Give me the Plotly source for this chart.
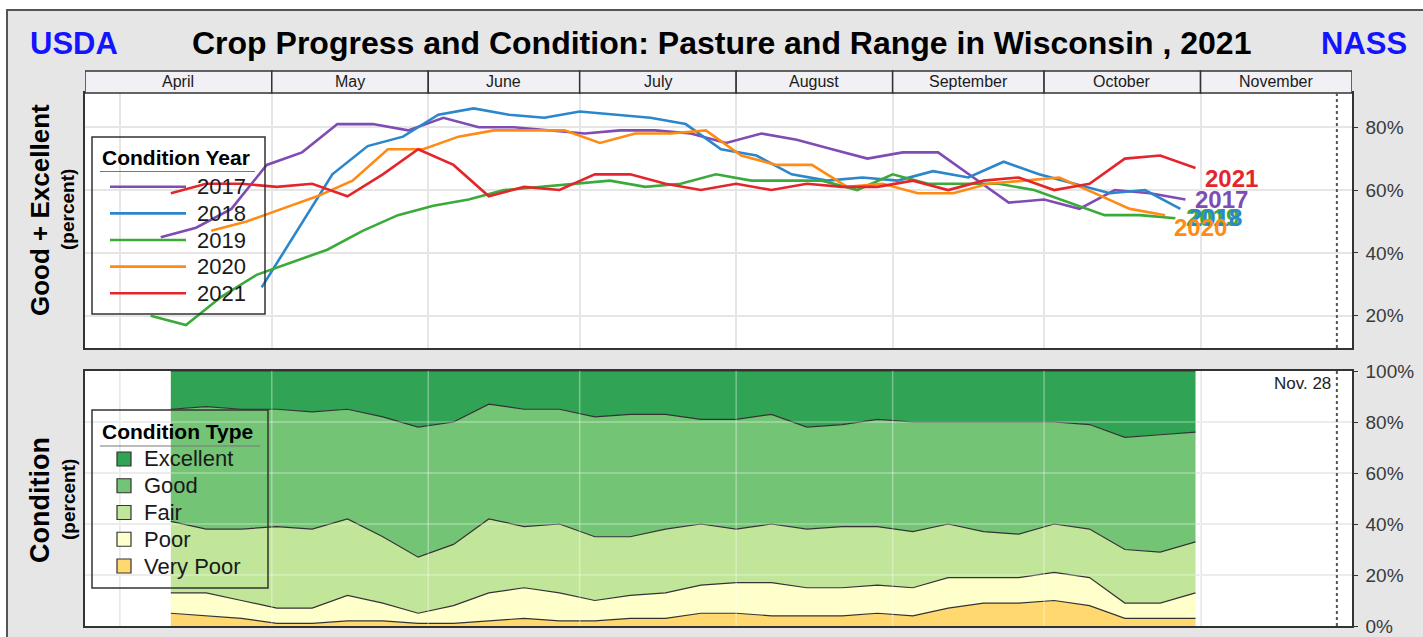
import pandas as pd
import plotly.graph_objects as go

W, H = 1423, 637
FONT = "Liberation Sans, Arial, Helvetica, sans-serif"

# ---------------- data ----------------
years = ["2017", "2018", "2019", "2020", "2021"]
year_colors = ["#7E4CB3", "#2B86CC", "#3AAA3A", "#FF8A14", "#E4262C"]
# first week-ending date of each year's series, placed on the 2021 calendar
year_starts = ["2021-04-09", "2021-04-29", "2021-04-07", "2021-04-19", "2021-04-11"]

ge_2017 = [45, 48, 54, 68, 72, 81, 81, 79, 83, 80, 80, 79, 78, 79, 79,
           78, 75, 78, 76, 73, 70, 72, 72, 64, 56, 57, 54, 60, 59, 57]
ge_2018 = [29, 47, 65, 74, 77, 84, 86, 84, 83, 85, 84, 83, 81, 73, 71,
           65, 63, 64, 63, 66, 64, 69, 65, 62, 59, 60, 54]
ge_2019 = [20, 17, 26, 33, 37, 41, 47, 52, 55, 57, 60, 61, 62, 63, 61,
           62, 65, 63, 63, 63, 60, 65, 62, 62, 62, 60, 56, 52, 52, 51]
ge_2020 = [47, 50, 54, 58, 63, 73, 73, 77, 79, 79, 79, 75, 78, 78, 79,
           71, 68, 68, 61, 62, 59, 59, 62, 63, 64, 59, 54, 52]
ge_2021 = [59, 62, 62, 61, 62, 58, 65, 73, 68, 58, 61, 60, 65, 65, 62,
           60, 62, 60, 62, 61, 61, 63, 60, 63, 64, 60, 62, 70, 71, 67]
year_values = [ge_2017, ge_2018, ge_2019, ge_2020, ge_2021]

cond_start = "2021-04-11"
cond_types = ["Very Poor", "Poor", "Fair", "Good", "Excellent"]
cond_colors = ["#FFD970", "#FFFFCC", "#C2E699", "#74C476", "#31A354"]
very_poor = [5, 4, 3, 1, 1, 2, 2, 1, 1, 2, 3, 2, 2, 3, 3,
             5, 5, 4, 4, 4, 5, 4, 7, 9, 9, 10, 8, 3, 3, 3]
poor = [8, 9, 7, 6, 6, 10, 7, 4, 7, 11, 12, 11, 8, 9, 10,
        11, 12, 13, 11, 11, 11, 11, 12, 10, 10, 11, 11, 6, 6, 10]
fair = [28, 25, 28, 32, 31, 30, 26, 22, 24, 29, 24, 27, 25, 23, 25,
        24, 21, 23, 23, 24, 23, 22, 21, 18, 17, 19, 19, 21, 20, 20]
good = [44, 48, 47, 46, 46, 43, 47, 51, 48, 45, 46, 45, 47, 48, 45,
        41, 43, 43, 40, 40, 42, 43, 40, 43, 44, 40, 41, 44, 46, 43]
excellent = [15, 14, 15, 15, 16, 15, 18, 22, 20, 13, 15, 15, 18, 17, 17,
             19, 19, 17, 22, 21, 19, 20, 20, 20, 20, 20, 21, 26, 25, 24]
cond_values = [very_poor, poor, fair, good, excellent]

months = ["April", "May", "June", "July", "August", "September", "October", "November"]
month_starts = ["2021-04-01", "2021-05-01", "2021-06-01", "2021-07-01",
                "2021-08-01", "2021-09-01", "2021-10-01", "2021-11-01"]
x_range = ["2021-03-25", "2021-12-01"]
last_week = "2021-11-28"
top_ticks = [20, 40, 60, 80]
bottom_ticks = [0, 20, 40, 60, 80, 100]

# ---------------- layout helpers (pixel -> paper) ----------------
def px(x):
    return x / W


def py(y):
    return 1 - y / H


X0, X1 = 85, 1352
TOP_Y0, TOP_Y1 = 93, 348
BOT_Y0, BOT_Y1 = 371, 626
STRIP_Y0 = 71

fig = go.Figure()

# ---- top panel: Good + Excellent lines ----
for yr, col, start, vals in zip(years, year_colors, year_starts, year_values):
    dates = pd.date_range(start, periods=len(vals), freq="7D")
    fig.add_trace(go.Scatter(x=dates, y=vals, mode="lines", name=yr,
                             line=dict(color=col, width=2.6),
                             xaxis="x", yaxis="y", showlegend=False))

# ---- bottom panel: stacked condition areas ----
cond_dates = pd.date_range(cond_start, periods=len(very_poor), freq="7D")
for name, col, vals in zip(cond_types, cond_colors, cond_values):
    fig.add_trace(go.Scatter(x=cond_dates, y=vals, mode="lines", name=name,
                             stackgroup="cond", fillcolor=col,
                             line=dict(color="#333333", width=1.2),
                             xaxis="x2", yaxis="y2", showlegend=False))

axis_common = dict(showline=True, mirror=True, linecolor="#333333", linewidth=1.5,
                   zeroline=False, gridcolor="#E6E6E6", gridwidth=1.5, automargin=False)
xcommon = dict(axis_common, type="date", range=x_range, domain=[px(X0), px(X1)],
               tickvals=month_starts, showticklabels=False, ticks="", showgrid=True)
ycommon = dict(axis_common, side="right", ticks="outside", ticklen=4,
               tickcolor="#333333", tickfont=dict(family=FONT, size=19, color="#3A3A3A"),
               ticklabelstandoff=4, showgrid=True)

fig.update_layout(
    width=W, height=H, margin=dict(l=0, r=0, t=0, b=0, autoexpand=False),
    paper_bgcolor="#E6E6E6", plot_bgcolor="white", showlegend=False,
    font=dict(family=FONT),
    xaxis=dict(xcommon, anchor="y"),
    yaxis=dict(ycommon, domain=[py(TOP_Y1), py(TOP_Y0)], range=[9.7, 90.9],
               tickvals=top_ticks, ticktext=[f"{v}%" for v in top_ticks], anchor="x"),
    xaxis2=dict(xcommon, anchor="y2"),
    yaxis2=dict(ycommon, domain=[py(BOT_Y1), py(BOT_Y0)], range=[0, 100],
                tickvals=bottom_ticks, ticktext=[f"{v}%" for v in bottom_ticks], anchor="x2"),
)

shapes = []
annotations = []


def note(text, x, y, size, color="black", bold=False, xanchor="center", yanchor="middle",
         xref="paper", yref="paper", **kw):
    annotations.append(dict(text=text, x=x, y=y, xref=xref, yref=yref, xanchor=xanchor,
                            yanchor=yanchor, showarrow=False,
                            font=dict(family=FONT, size=size, color=color,
                                      weight="bold" if bold else "normal"), **kw))


# outer frame (white margin + border)
shapes.append(dict(type="rect", xref="paper", yref="paper", x0=0, x1=px(7), y0=0, y1=1,
                   fillcolor="white", line=dict(width=0), layer="above"))
shapes.append(dict(type="rect", xref="paper", yref="paper", x0=0, x1=1, y0=py(10), y1=1,
                   fillcolor="white", line=dict(width=0), layer="above"))
shapes.append(dict(type="path", xref="paper", yref="paper",
                   path=f"M {px(7)},0 L {px(7)},{py(10)} L 1,{py(10)}",
                   line=dict(color="#555555", width=2), layer="above"))

# month strip
bounds = [x_range[0]] + month_starts[1:] + [x_range[1]]
for i, m in enumerate(months):
    a, b = pd.Timestamp(bounds[i]), pd.Timestamp(bounds[i + 1])
    shapes.append(dict(type="rect", xref="x", yref="paper", x0=a, x1=b,
                       y0=py(TOP_Y0), y1=py(STRIP_Y0), fillcolor="#F0F0F5",
                       line=dict(color="#333333", width=1.5), layer="above"))
    note(m, a + (b - a) / 2, py((STRIP_Y0 + TOP_Y0) / 2), 16, color="#1A1A1A", xref="x")

# white-ish grid over the filled areas in the bottom panel
for v in top_ticks:
    shapes.append(dict(type="line", xref="x2 domain", yref="y2", x0=0, x1=1, y0=v, y1=v,
                       line=dict(color="rgba(255,255,255,0.35)", width=1.5), layer="above"))
for d in month_starts:
    shapes.append(dict(type="line", xref="x2", yref="y2 domain", x0=d, x1=d, y0=0, y1=1,
                       line=dict(color="rgba(255,255,255,0.35)", width=1.5), layer="above"))

# last-week dotted markers
for xr, yr_ in (("x", "y domain"), ("x2", "y2 domain")):
    shapes.append(dict(type="line", xref=xr, yref=yr_, x0=last_week, x1=last_week, y0=0, y1=1,
                       line=dict(color="#555555", width=2, dash="dot"), layer="above"))
note("Nov. 28", last_week, py(384), 17, color="#222222", xanchor="right", xref="x", xshift=-4)

# end-of-line year labels (drawn in this order so overlaps match)
label_shift = {"2021": (7, -10), "2017": (8, 0), "2019": (9, 1), "2018": (7, -9), "2020": (7, -12)}
for yr in ["2021", "2017", "2019", "2018", "2020"]:
    i = years.index(yr)
    vals = year_values[i]
    last_date = pd.Timestamp(year_starts[i]) + pd.Timedelta(days=7 * (len(vals) - 1))
    dx, dy = label_shift[yr]
    note(yr, last_date, vals[-1], 24, color=year_colors[i], bold=True, xanchor="left",
         xref="x", yref="y", xshift=dx, yshift=dy)

# titles
note("USDA", px(74), py(43), 31, color="#1414FF", bold=True)
note("NASS", px(1364), py(43), 31, color="#1414FF", bold=True)
note("Crop Progress and Condition: Pasture and Range in Wisconsin , 2021",
     px(721), py(43), 32, bold=True)

# y axis titles
for txt, size, x, y in (("Good + Excellent", 26, 40, 210), ("(percent)", 19, 68, 210),
                        ("Condition", 27, 40, 500), ("(percent)", 19, 68, 500)):
    note(txt, px(x), py(y), size, bold=True, textangle=-90)

# legend: Condition Year
shapes.append(dict(type="rect", xref="paper", yref="paper", x0=px(92), x1=px(265),
                   y0=py(314), y1=py(137), line=dict(color="#333333", width=1.5), layer="above"))
note("Condition Year", px(100), py(158), 21, bold=True, xanchor="left")
shapes.append(dict(type="line", xref="paper", yref="paper", x0=px(100), x1=px(255),
                   y0=py(171.5), y1=py(171.5), line=dict(color="#777777", width=1), layer="above"))
for i, (yr, col) in enumerate(zip(years, year_colors)):
    yy = 186.7 + 26.65 * i
    shapes.append(dict(type="line", xref="paper", yref="paper", x0=px(110), x1=px(186),
                       y0=py(yy), y1=py(yy), line=dict(color=col, width=2.6), layer="above"))
    note(yr, px(195), py(yy), 22, color="#1A1A1A", xanchor="left")

# legend: Condition Type
shapes.append(dict(type="rect", xref="paper", yref="paper", x0=px(92), x1=px(268),
                   y0=py(588), y1=py(410), line=dict(color="#333333", width=1.5), layer="above"))
note("Condition Type", px(100), py(431), 21, bold=True, xanchor="left")
shapes.append(dict(type="line", xref="paper", yref="paper", x0=px(100), x1=px(260),
                   y0=py(446), y1=py(446), line=dict(color="#777777", width=1), layer="above"))
for i, (name, col) in enumerate(zip(cond_types[::-1], cond_colors[::-1])):
    yy = 459 + 26.75 * i
    shapes.append(dict(type="rect", xref="paper", yref="paper", x0=px(117), x1=px(131),
                       y0=py(yy + 7), y1=py(yy - 7), fillcolor=col,
                       line=dict(color="#333333", width=1.2), layer="above"))
    note(name, px(142), py(yy), 22, color="#1A1A1A", xanchor="left")

fig.update_layout(shapes=shapes, annotations=annotations)

fig.write_html("out.html", config={"displayModeBar": False},
               post_script="document.body.style.margin='0';")
